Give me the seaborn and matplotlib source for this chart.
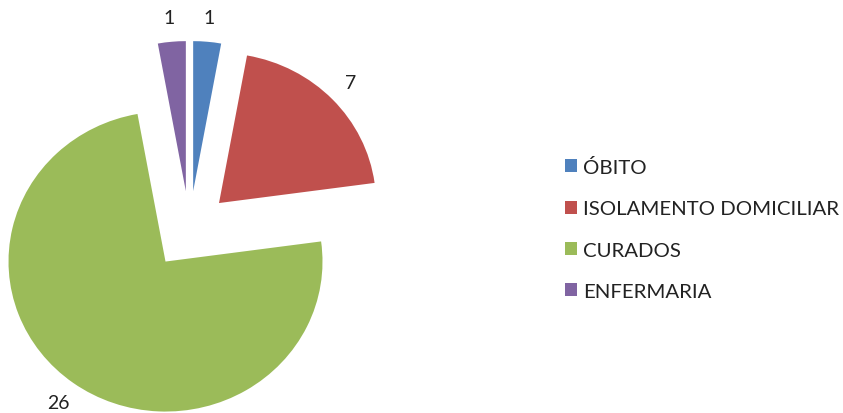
import matplotlib
matplotlib.use("Agg")
import matplotlib.pyplot as plt
import seaborn as sns

categories = ["ÓBITO", "ISOLAMENTO DOMICILIAR", "CURADOS", "ENFERMARIA"]
values = [1, 7, 26, 1]
colors = ["#4F81BD", "#C0504D", "#9BBB59", "#8064A2"]

sns.set_theme(style="white")
plt.rcParams["font.family"] = ["Lato", "DejaVu Sans"]

fig = plt.figure(figsize=(8.43, 4.14), dpi=100)
fig.patch.set_facecolor("white")

rx_px, ry_px = 157.0, 150.0
lim = 1.5
w_px, h_px = 2 * lim * rx_px, 2 * lim * ry_px
cx, cy = 189.5, 231.0
ax = fig.add_axes([(cx - w_px / 2) / 843, (414 - cy - h_px / 2) / 414, w_px / 843, h_px / 414])

wedges, texts = ax.pie(
    values,
    labels=[str(v) for v in values],
    colors=colors,
    startangle=90,
    counterclock=False,
    explode=[0.26] * len(values),
    labeldistance=1.16,
    wedgeprops=dict(linewidth=0),
    textprops=dict(fontsize=14, color="#222222"),
)
for t in texts:
    t.set_ha("center")
    t.set_va("center")
ax.set_xlim(-lim, lim)
ax.set_ylim(-lim, lim)
ax.set_aspect("auto")
ax.axis("off")

leg = fig.legend(
    wedges,
    categories,
    loc="center left",
    bbox_to_anchor=(565 / 843, (414 - 230) / 414),
    frameon=False,
    fontsize=14.7,
    handlelength=0.6,
    handleheight=0.6,
    handletextpad=0.3,
    labelspacing=1.19,
    borderpad=0,
    borderaxespad=0,
)
for t in leg.get_texts():
    t.set_color("#222222")

fig.savefig("out.png", dpi=100, facecolor="white")
